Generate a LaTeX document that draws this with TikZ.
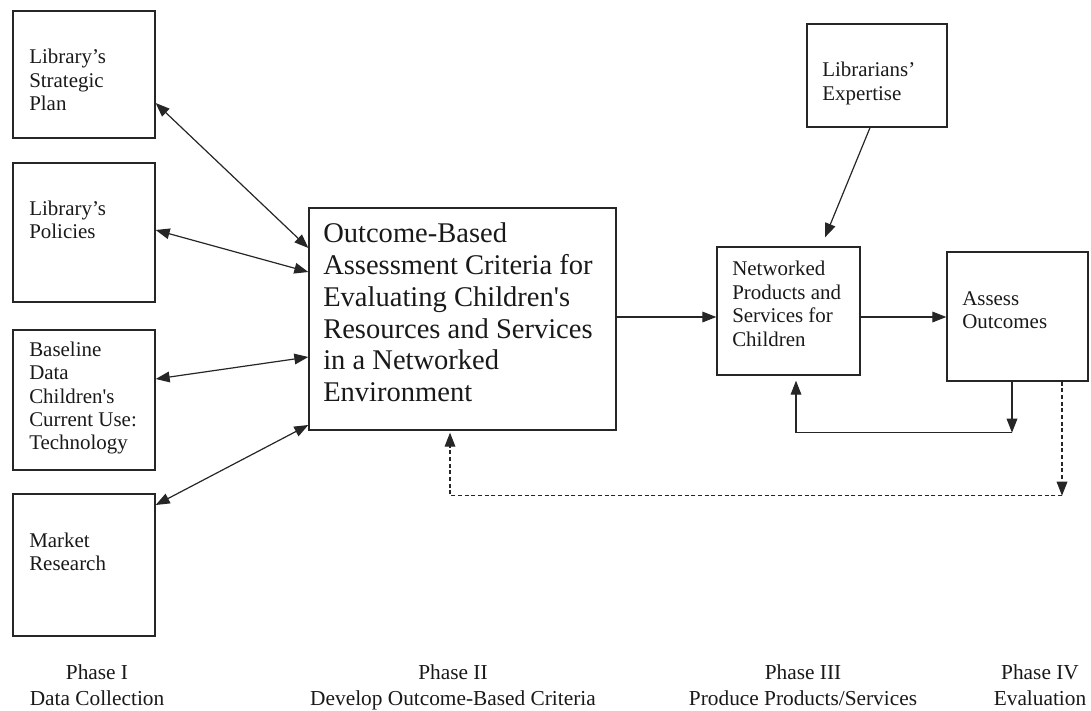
\documentclass[tikz,border=0pt]{standalone}
\usepackage{fontspec}
\setmainfont{Liberation Serif}
\usetikzlibrary{arrows.meta,calc}
\begin{document}
\begin{tikzpicture}[x=0.75pt,y=-0.75pt,
  >={Triangle[length=10.5pt,width=8pt]},
  box/.style 2 args={draw=black!85, line width=1pt, minimum width=#1*0.75pt, minimum height=#2*0.75pt, inner sep=0pt},
  txt/.style={align=left, font=\fontsize{15.7}{17.6}\selectfont, inner sep=0pt, anchor=west, text=black!90},
  big/.style={align=left, font=\fontsize{21.4}{23.8}\selectfont, inner sep=0pt, anchor=west, text=black!90},
  phase/.style={align=center, font=\fontsize{16}{19}\selectfont, inner sep=0pt, text=black!90, anchor=base},
  conn/.style={line width=0.9pt, draw=black!85},
  arr/.style={conn, ->},
  barr/.style={conn, <->},
  darr/.style={conn, ->, dash pattern=on 3pt off 2pt}]
\useasboundingbox (0,0) rectangle (1091,710);

% Phase I boxes
\node[box={142}{127}] (sp) at (84,74.5) {};
\node[txt] (spt) at (29,80) {Library’s\\Strategic\\Plan};
\node[box={142}{139}] (pol) at (84,232.5) {};
\node[txt] (polt) at (29,220) {Library’s\\Policies};
\node[box={142}{140}] (base) at (84,400) {};
\node[txt] (baset) at (29,398) {Baseline\\Data\\Children\textquotesingle s\\Current Use:\\Technology};
\node[box={142}{142}] (mkt) at (84,565) {};
\node[txt] (mktt) at (29,552) {Market\\Research};

% Phase II
\node[box={307}{222}] (cen) at (462.5,319) {};
\node[big] (cent) at (323,312.5) {Outcome-Based\\Assessment Criteria for\\Evaluating Children\textquotesingle s\\Resources and Services\\in a Networked\\Environment};

% Phase III
\node[box={140}{103}] (lib) at (877,75.5) {};
\node[txt] (libt) at (822,83.5) {Librarians’\\Expertise};
\node[box={143}{128}] (net) at (788.5,311) {};
\node[txt] (nett) at (732,304) {Networked\\Products and\\Services for\\Children};

% Phase IV
\node[box={141}{129}] (ass) at (1017.5,316.5) {};
\node[txt] (asst) at (962,310) {Assess\\Outcomes};

% connectors
\draw[barr] ($(sp.east)+(0,28.5)$) -- ($(cen.west)+(0,-71)$);
\draw[barr] ($(pol.east)+(0,-2.5)$) -- ($(cen.west)+(0,-47)$);
\draw[barr] ($(base.east)+(0,-21)$) -- ($(cen.west)+(0,38)$);
\draw[barr] ($(mkt.east)+(0,-60)$) -- ($(cen.west)+(0,106)$);
\draw[arr] ($(cen.east)+(0,-2)$) -- ($(net.west)+(0,6)$);
\draw[arr] ($(net.east)+(0,6)$) -- ($(ass.west)+(0,0.5)$);
\draw[arr] ($(lib.south)+(-7,0)$) -- ($(net.north)+(36.5,-9)$);

\coordinate (c1) at ($(ass.south)+(-5.5,51)$);
\draw[arr] ($(ass.south)+(-5.5,0)$) -- (c1);
\draw[arr] (c1) -| ($(net.south)+(7.5,5)$);

\coordinate (c2) at ($(ass.south)+(44.5,114)$);
\draw[darr] ($(ass.south)+(44.5,0)$) -- (c2);
\draw[darr] (c2) -| ($(cen.south)+(-12.5,2)$);

% phase labels
\node[phase] (p1) at (97,705) {Phase I\\Data Collection};
\node[phase] (p2) at (453,705) {Phase II\\Develop Outcome-Based Criteria};
\node[phase] (p3) at (803,705) {Phase III\\Produce Products/Services};
\node[phase] (p4) at (1040,705) {Phase IV\\Evaluation};
\end{tikzpicture}
\end{document}
